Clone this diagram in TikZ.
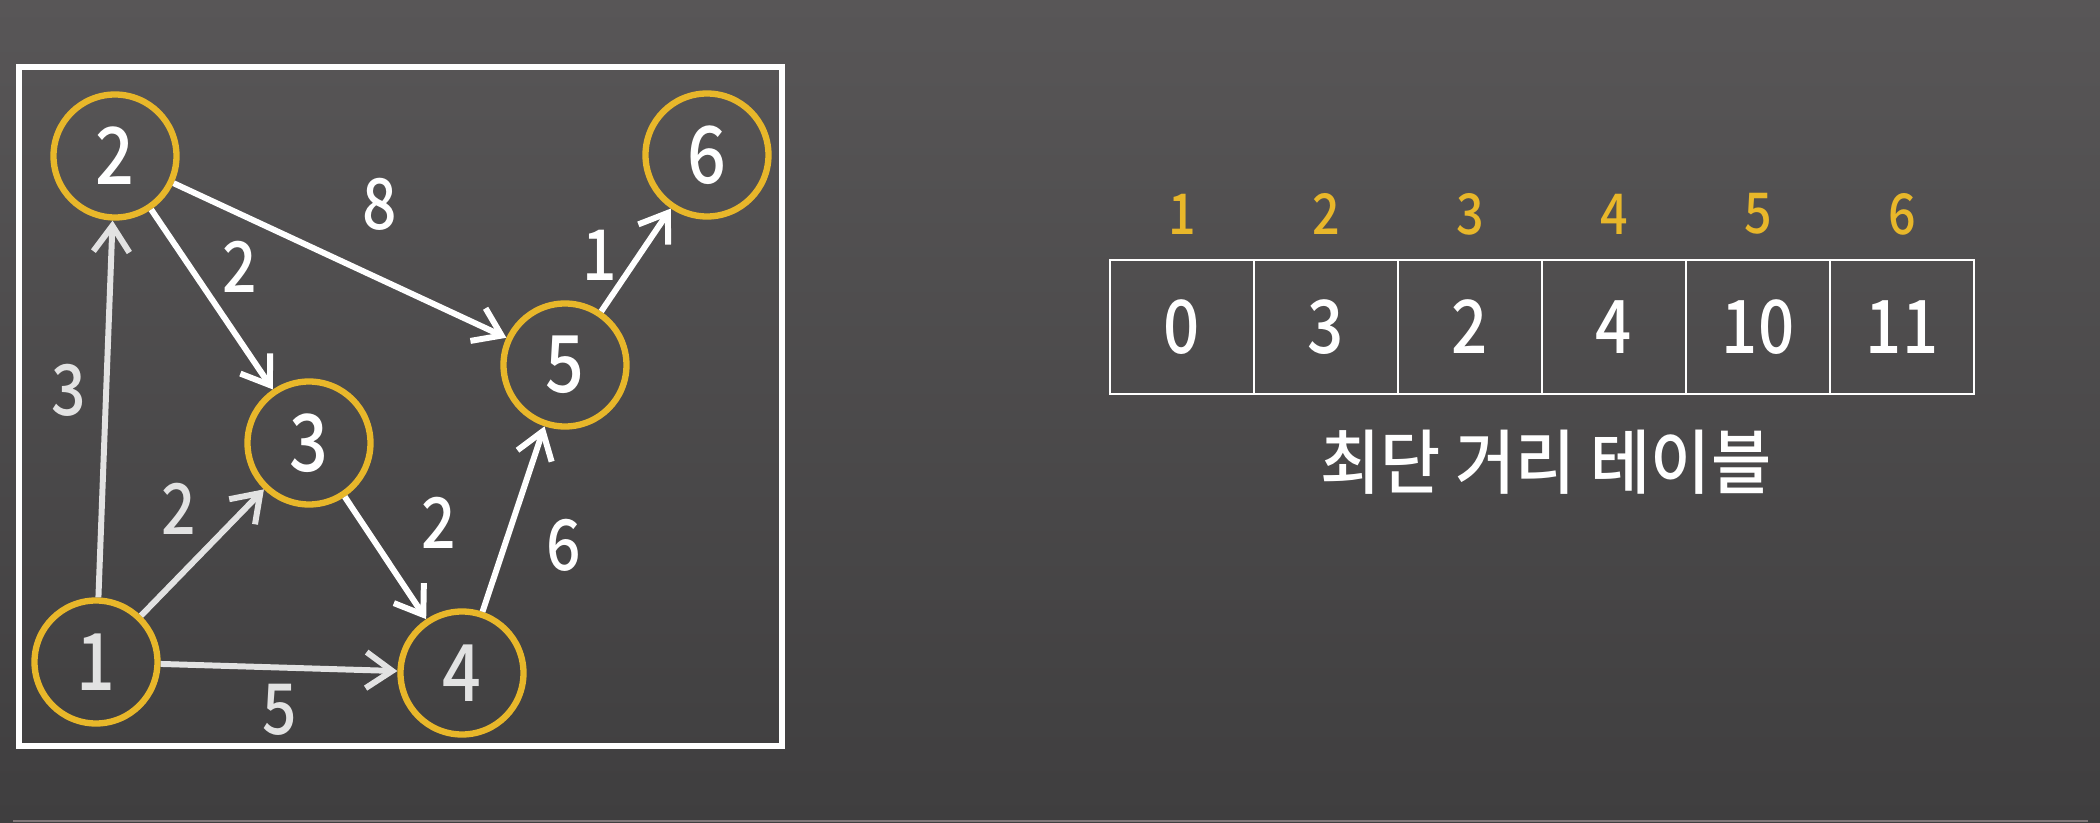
\documentclass[tikz,border=0pt]{standalone}
\usepackage{fontspec}
\setmainfont{Noto Sans CJK KR}[UprightFont=* Medium]
\newfontfamily\numfont{Noto Sans CJK KR}[UprightFont=* Medium, FakeStretch=0.86]
\newfontfamily\hanfont{Noto Sans CJK KR}[UprightFont=* Medium, FakeStretch=0.93]
\usetikzlibrary{arrows.meta}
\definecolor{bgTop}{RGB}{88,86,87}
\definecolor{bgBottom}{RGB}{63,62,63}
\definecolor{nodeGold}{RGB}{232,183,42}
\definecolor{dimWhite}{RGB}{226,226,226}
\definecolor{stripGray}{RGB}{128,118,120}

\begin{document}
\begin{tikzpicture}[
  vertex/.style={circle, draw=nodeGold, line width=1.8pt, minimum size=1.23cm,
    inner sep=0pt, text=white, font=\numfont\fontsize{22.5}{24}\selectfont},
  dimvertex/.style={vertex, text=dimWhite},
  weight/.style={text=white, font=\numfont\fontsize{20}{22}\selectfont},
  dimweight/.style={weight, text=dimWhite},
  link/.style={draw=white, line width=1.7pt, -{Straight Barb[length=2.6mm, width=3.6mm]}},
  dimlink/.style={link, draw=dimWhite},
  cell/.style={rectangle, draw=white, line width=0.8pt, minimum width=1.44cm,
    minimum height=1.34cm, inner sep=0pt, text=white, font=\numfont\fontsize{21}{23}\selectfont},
  vidx/.style={text=nodeGold, font=\numfont\fontsize{16}{18}\selectfont},
  caption/.style={text=white, font=\hanfont\fontsize{20}{22}\selectfont}
]

% Background and bottom strip.
\shade[top color=bgTop, bottom color=bgBottom] (0,0) rectangle (21,8.22);
\draw[stripGray, line width=0.02cm] (0.13,0.01) -- (20.88,0.01);

% Graph frame.
\draw[white, line width=1.8pt] (0.19,0.76) rectangle (7.82,7.55);

% Vertices.
\node[dimvertex] (n1) at (0.96,1.60) {1};
\node[vertex] (n2) at (1.15,6.66) {2};
\node[vertex] (n3) at (3.09,3.79) {3};
\node[dimvertex] (n4) at (4.62,1.49) {4};
\node[vertex] (n5) at (5.65,4.57) {5};
\node[vertex] (n6) at (7.07,6.67) {6};

% Directed edges.
\draw[dimlink] (n1) -- (n2);
\draw[dimlink] (n1) -- (n3);
\draw[dimlink] (n1) -- (n4);
\draw[link] (n2) -- (n3);
\draw[link] (n2) -- (n5);
\draw[link] (n3) -- (n4);
\draw[link] (n4) -- (n5);
\draw[link] (n5) -- (n6);

% Edge weights.
\node[dimweight] (w12) at (0.69,4.32) {3};
\node[dimweight] (w13) at (1.79,3.13) {2};
\node[dimweight] (w14) at (2.80,1.12) {5};
\node[weight] (w23) at (2.40,5.55) {2};
\node[weight] (w25) at (3.80,6.18) {8};
\node[weight] (w34) at (4.39,2.99) {2};
\node[weight] (w45) at (5.64,2.77) {6};
\node[weight] (w56) at (6.00,5.67) {1};

% Shortest distance table.
\node[cell] (d1) at (11.82,4.95) {0};
\node[cell] (d2) at (13.26,4.95) {3};
\node[cell] (d3) at (14.70,4.95) {2};
\node[cell] (d4) at (16.14,4.95) {4};
\node[cell] (d5) at (17.58,4.95) {10};
\node[cell] (d6) at (19.02,4.95) {11};

\node[vidx] (i1) at (11.82,6.08) {1};
\node[vidx] (i2) at (13.26,6.08) {2};
\node[vidx] (i3) at (14.70,6.08) {3};
\node[vidx] (i4) at (16.14,6.08) {4};
\node[vidx] (i5) at (17.58,6.08) {5};
\node[vidx] (i6) at (19.02,6.08) {6};

\node[caption] (title) at (15.46,3.60) {최단 거리 테이블};

\end{tikzpicture}
\end{document}
